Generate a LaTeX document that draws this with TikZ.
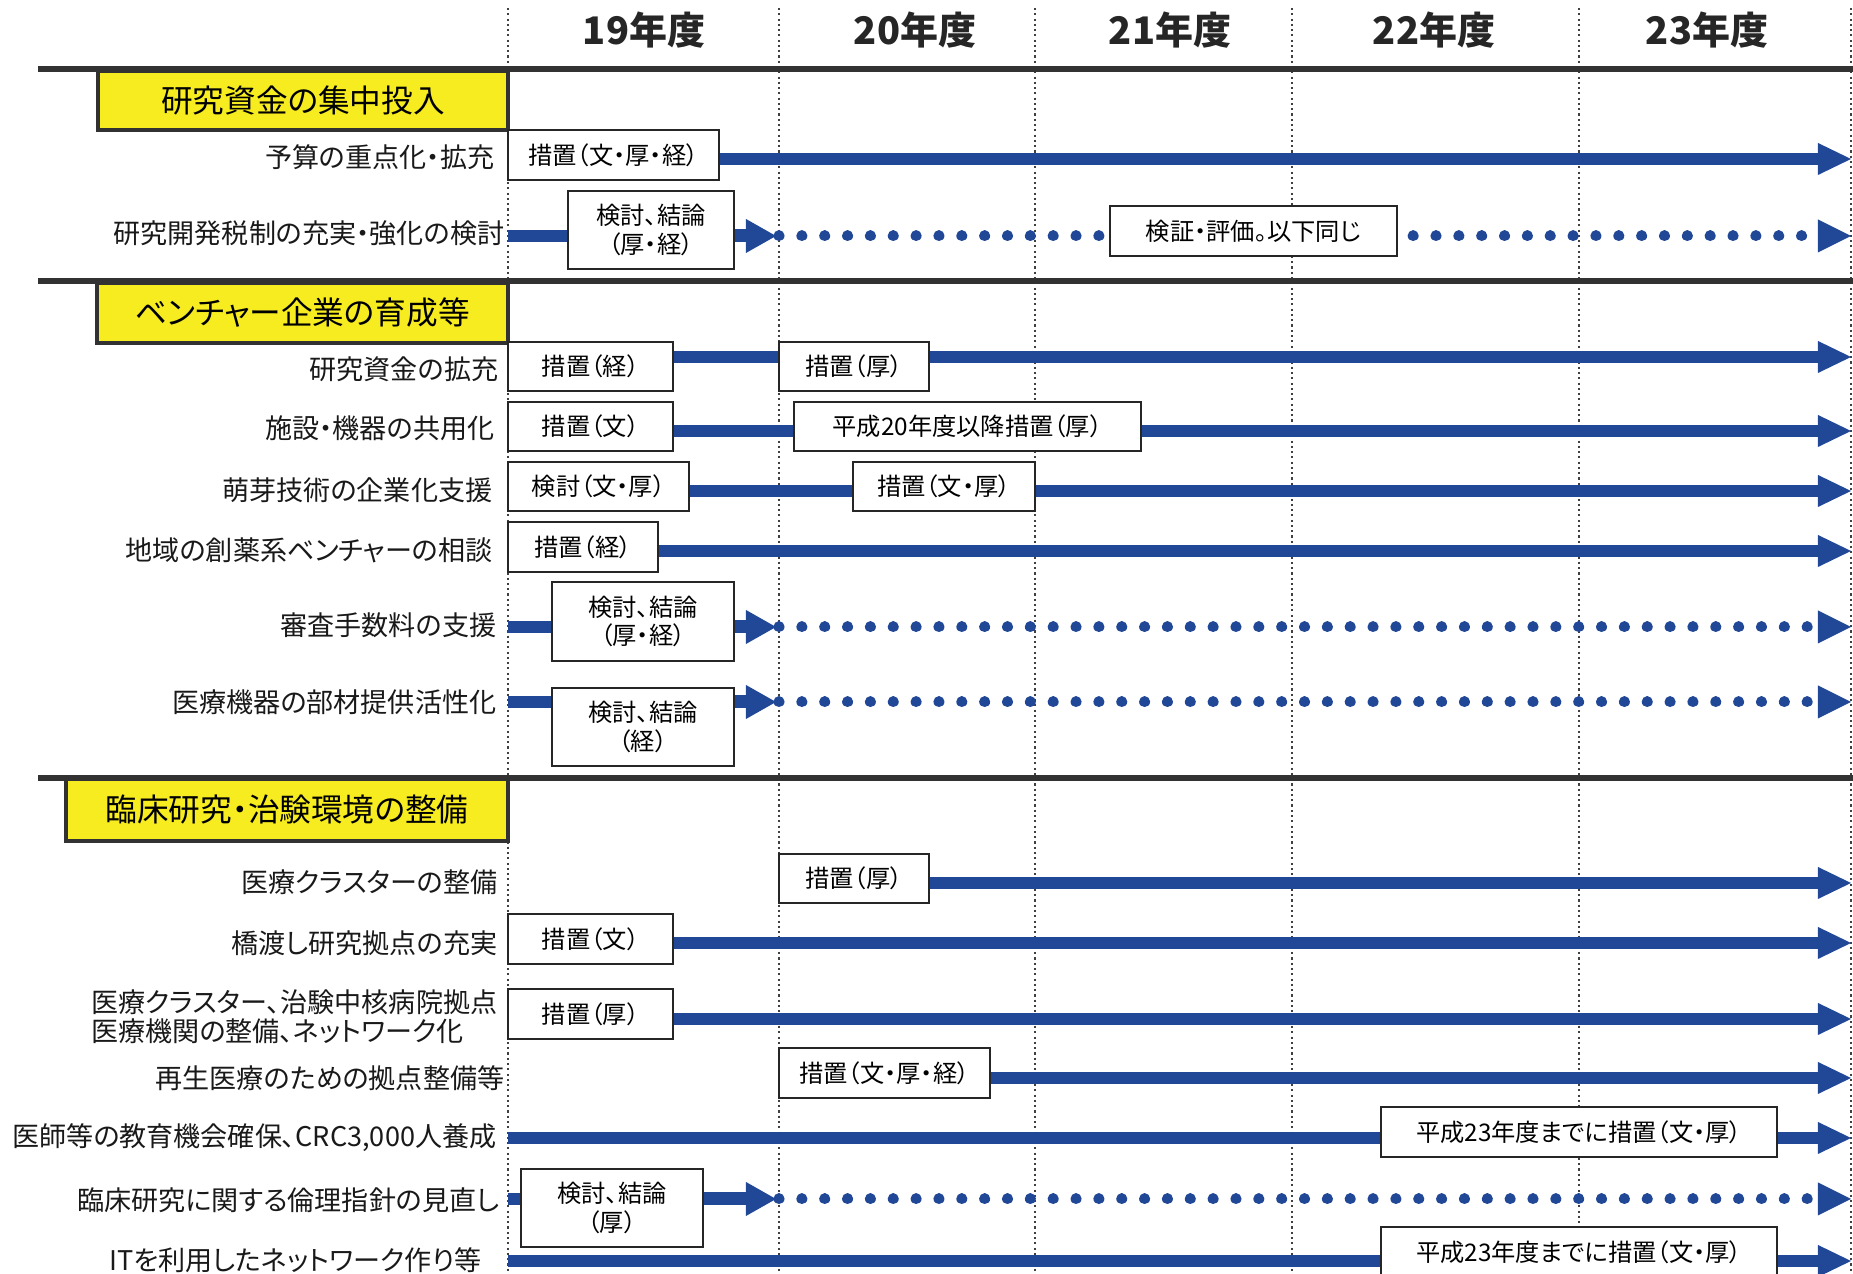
\documentclass[tikz,border=0pt]{standalone}
\usepackage{fontspec}
\setmainfont[RawFeature=+palt]{Noto Sans CJK JP}
\usepackage{tikz}
\usetikzlibrary{arrows.meta,positioning,calc}

\definecolor{flowblue}{RGB}{33,72,150}
\definecolor{hdyellow}{RGB}{246,236,32}
\definecolor{rulegray}{RGB}{50,50,50}

\tikzset{
  yearlbl/.style={font=\fontsize{10.8}{13}\selectfont\bfseries, text=black!85},
  sechead/.style={draw=rulegray, line width=1pt, fill=hdyellow, inner sep=0pt, font=\fontsize{9}{10}\selectfont},
  rowlbl/.style={anchor=east, inner sep=0pt, text=black!90, font=\fontsize{7.7}{8.2}\selectfont},
  actbox/.style={draw=black!85, fill=white, line width=0.6pt, inner sep=0pt, align=center, font=\fontsize{6.9}{8.2}\selectfont},
  flow/.style={draw=flowblue, line width=3.3pt},
  flowarr/.style={flow, -{Triangle[length=0.33cm,width=0.32cm,line width=0pt]}},
  stubarr/.style={flow, line width=3.7pt, -{Triangle[length=0.30cm,width=0.34cm,line width=0pt]}},
  dotflow/.style={draw=flowblue, line width=0.11cm, line cap=round, dash pattern=on 0.01pt off 0.228cm},
  dotarr/.style={dotflow, -{Triangle[length=0.33cm,width=0.33cm,line width=0pt]}},
  secrule/.style={draw=rulegray, line width=1.7pt},
  yeargrid/.style={draw=black!75, line width=0.45pt, dash pattern=on 0.6pt off 0.9pt},
}

\begin{document}
\begin{tikzpicture}[x=0.01cm,y=-0.01cm]
\useasboundingbox (0,0) rectangle (1853,1274);

% fiscal year columns
\foreach \gx [count=\i from 0] in {508,779,1035,1292,1579,1851}{
  \coordinate (g\i) at (\gx,8);
  \draw[yeargrid] (g\i) -- ++(0,1266);
}
\coordinate (gtip) at (776,0);

\foreach \yr/\yx in {19/644,20/915,21/1170,22/1434,23/1707}
  \node[yearlbl] (y\yr) at (\yx,30) {\yr 年度};

\foreach \ry in {69,281,778}
  \draw[secrule] (38,\ry) -- (1853,\ry);

% section headings
\node[sechead, minimum width=4.10cm, minimum height=0.59cm] (s1) at (303,100.5) {研究資金の集中投入};
\node[sechead, minimum width=4.11cm, minimum height=0.60cm] (s2) at (302.5,313) {ベンチャー企業の育成等};
\node[sechead, minimum width=4.42cm, minimum height=0.62cm] (s3) at (287,810) {臨床研究・治験環境の整備};

% section 1
\coordinate (r1) at (508,159);
\node[rowlbl] (l1) at (495,157) {予算の重点化・拡充};
\node[actbox, minimum width=2.11cm, minimum height=0.50cm] (b1) at (613.5,155) {措置（文・厚・経）};
\draw[flowarr] (b1.east |- r1) -- (r1 -| g5);

\coordinate (r2) at (508,236);
\node[rowlbl] (l2) at (505,233) {研究開発税制の充実・強化の検討};
\node[actbox, minimum width=1.66cm, minimum height=0.78cm] (b2) at (651,230) {検討、結論\\（厚・経）};
\node[actbox, minimum width=2.87cm, minimum height=0.50cm] (c2) at (1253.5,231) {検証・評価。以下同じ};
\draw[flow] (r2) -- (b2.west |- r2);
\draw[stubarr] (b2.east |- r2) -- (r2 -| gtip);
\draw[dotflow] (r2 -| g1) -- (c2.west |- r2);
\draw[dotarr, shorten <=0.15cm] (c2.east |- r2) -- (r2 -| g5);

% section 2
\coordinate (r3) at (508,357);
\node[rowlbl] (l3) at (499,369) {研究資金の拡充};
\node[actbox, minimum width=1.65cm, minimum height=0.49cm] (b3) at (590.5,366.5) {措置（経）};
\node[actbox, minimum width=1.50cm, minimum height=0.49cm] (c3) at (854,366.5) {措置（厚）};
\draw[flow] (b3.east |- r3) -- (c3.west |- r3);
\draw[flowarr] (c3.east |- r3) -- (r3 -| g5);

\coordinate (r4) at (508,431);
\node[rowlbl] (l4) at (495,428) {施設・機器の共用化};
\node[actbox, minimum width=1.65cm, minimum height=0.49cm] (b4) at (590.5,426.5) {措置（文）};
\node[actbox, minimum width=3.47cm, minimum height=0.49cm] (c4) at (967.5,426.5) {平成20年度以降措置（厚）};
\draw[flow] (b4.east |- r4) -- (c4.west |- r4);
\draw[flowarr] (c4.east |- r4) -- (r4 -| g5);

\coordinate (r5) at (508,491);
\node[rowlbl] (l5) at (493,490) {萌芽技術の企業化支援};
\node[actbox, minimum width=1.81cm, minimum height=0.49cm] (b5) at (598.5,486.5) {検討（文・厚）};
\node[actbox, minimum width=1.82cm, minimum height=0.49cm] (c5) at (944,486.5) {措置（文・厚）};
\draw[flow] (b5.east |- r5) -- (c5.west |- r5);
\draw[flowarr] (c5.east |- r5) -- (r5 -| g5);

\coordinate (r6) at (508,551);
\node[rowlbl] (l6) at (493,550) {地域の創薬系ベンチャーの相談};
\node[actbox, minimum width=1.50cm, minimum height=0.50cm] (b6) at (583,547) {措置（経）};
\draw[flowarr] (b6.east |- r6) -- (r6 -| g5);

\coordinate (r7) at (508,627);
\node[rowlbl] (l7) at (497,625) {審査手数料の支援};
\node[actbox, minimum width=1.82cm, minimum height=0.79cm] (b7) at (643,621.5) {検討、結論\\（厚・経）};
\draw[flow] (r7) -- (b7.west |- r7);
\draw[stubarr] (b7.east |- r7) -- (r7 -| gtip);
\draw[dotarr] (r7 -| g1) -- (r7 -| g5);

\coordinate (r8) at (508,702);
\node[rowlbl] (l8) at (497,702) {医療機器の部材提供活性化};
\node[actbox, minimum width=1.82cm, minimum height=0.78cm] (b8) at (643,727) {検討、結論\\（経）};
\draw[flow] (r8) -- (b8.west |- r8);
\draw[stubarr] (b8.east |- r8) -- (r8 -| gtip);
\draw[dotarr] (r8 -| g1) -- (r8 -| g5);

% section 3
\coordinate (r9) at (508,883);
\node[rowlbl] (l9) at (498,882) {医療クラスターの整備};
\node[actbox, minimum width=1.50cm, minimum height=0.49cm] (b9) at (854,878.5) {措置（厚）};
\draw[flowarr] (b9.east |- r9) -- (r9 -| g5);

\coordinate (r10) at (508,943);
\node[rowlbl] (l10) at (498,943) {橋渡し研究拠点の充実};
\node[actbox, minimum width=1.65cm, minimum height=0.50cm] (b10) at (590.5,939) {措置（文）};
\draw[flowarr] (b10.east |- r10) -- (r10 -| g5);

\coordinate (r11) at (508,1019);
\node[rowlbl, align=left] (l11) at (498,1017) {医療クラスター、治験中核病院拠点\\医療機関の整備、ネットワーク化};
\node[actbox, minimum width=1.65cm, minimum height=0.50cm] (b11) at (590.5,1014) {措置（厚）};
\draw[flowarr] (b11.east |- r11) -- (r11 -| g5);

\coordinate (r12) at (508,1078);
\node[rowlbl] (l12) at (505,1078) {再生医療のための拠点整備等};
\node[actbox, minimum width=2.11cm, minimum height=0.50cm] (b12) at (884.5,1073) {措置（文・厚・経）};
\draw[flowarr] (b12.east |- r12) -- (r12 -| g5);

\coordinate (r13) at (508,1138);
\node[rowlbl] (l13) at (497,1138) {医師等の教育機会確保、CRC3,000人養成};
\node[actbox, minimum width=3.96cm, minimum height=0.50cm] (b13) at (1579,1132) {平成23年度までに措置（文・厚）};
\draw[flow] (r13) -- (b13.west |- r13);
\draw[flowarr] (b13.east |- r13) -- (r13 -| g5);

\coordinate (r14) at (508,1199);
\node[rowlbl] (l14) at (500,1200) {臨床研究に関する倫理指針の見直し};
\node[actbox, minimum width=1.82cm, minimum height=0.78cm] (b14) at (612,1208) {検討、結論\\（厚）};
\draw[flow] (r14) -- (b14.west |- r14);
\draw[stubarr] (b14.east |- r14) -- (r14 -| gtip);
\draw[dotarr] (r14 -| g1) -- (r14 -| g5);

\coordinate (r15) at (508,1261);
\node[rowlbl] (l15) at (482,1260) {ITを利用したネットワーク作り等};
\node[actbox, minimum width=3.96cm, minimum height=0.50cm] (b15) at (1579,1252) {平成23年度までに措置（文・厚）};
\draw[flow] (r15) -- (b15.west |- r15);
\draw[flowarr] (b15.east |- r15) -- (r15 -| g5);
\end{tikzpicture}
\end{document}
